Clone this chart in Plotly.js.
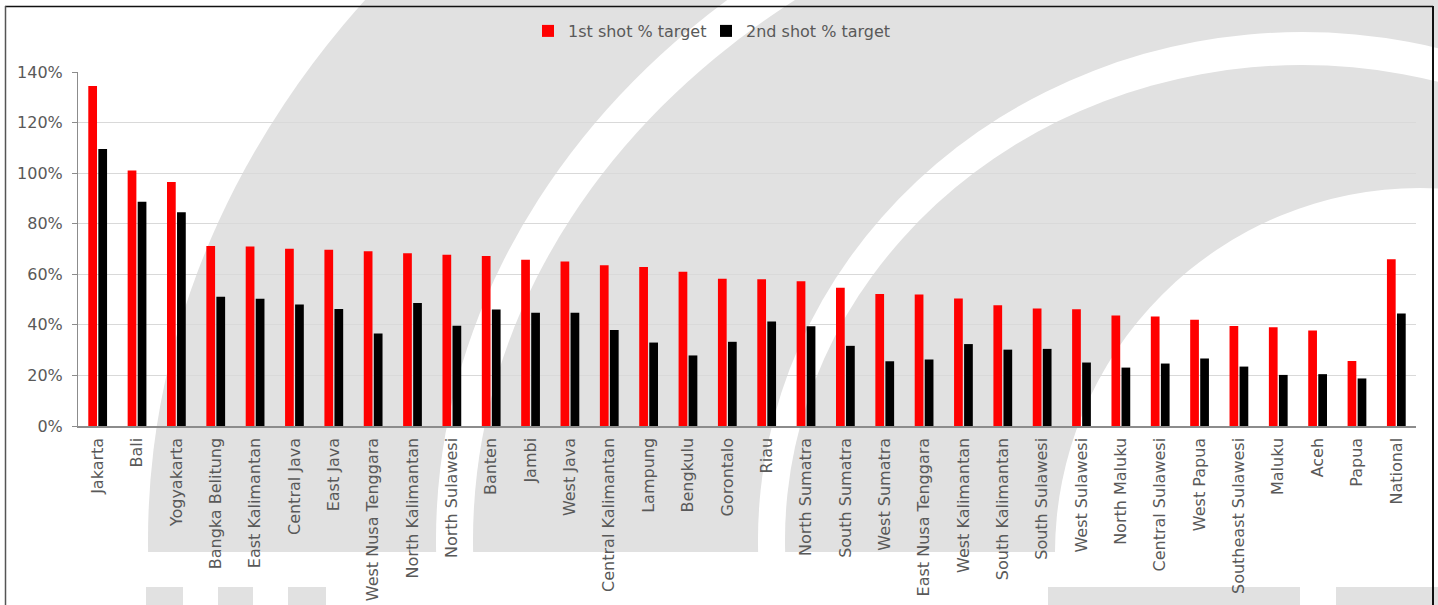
<!DOCTYPE html>
<html>
<head>
<meta charset="utf-8">
<script src="https://cdn.plot.ly/plotly-3.0.1.min.js"></script>
<style>
  html, body { margin: 0; padding: 0; width: 1438px; height: 605px; overflow: hidden; background: #fff; }
  #bg { position: absolute; left: 0; top: 0; }
  #chart { position: absolute; left: 0; top: 0; width: 1438px; height: 605px; }
</style>
</head>
<body>
<svg id="bg" width="1438" height="605" xmlns="http://www.w3.org/2000/svg">
  <defs><clipPath id="clipTop"><rect x="0" y="0" width="1438" height="552"/></clipPath></defs>
  <rect x="0" y="0" width="1438" height="605" fill="#ffffff"/>
  <g clip-path="url(#clipTop)">
    <ellipse cx="1302" cy="540" rx="1154" ry="925" fill="#e1e1e1"/>
    <ellipse cx="1302" cy="540" rx="866" ry="722" fill="#ffffff"/>
    <ellipse cx="1302" cy="540" rx="829" ry="682.5" fill="#e1e1e1"/>
    <ellipse cx="1302" cy="540" rx="544" ry="508" fill="#ffffff"/>
    <ellipse cx="1302" cy="540" rx="517" ry="475" fill="#e1e1e1"/>
    <circle cx="1420" cy="553" r="365" fill="#ffffff"/>
  </g>
  <rect x="146" y="587" width="37" height="20" fill="#e1e1e1"/>
  <rect x="218" y="587" width="35" height="20" fill="#e1e1e1"/>
  <rect x="288" y="587" width="38" height="20" fill="#e1e1e1"/>
  <rect x="1048" y="587" width="252" height="20" fill="#e1e1e1"/>
  <rect x="1336" y="587" width="102" height="20" fill="#e1e1e1"/>
  <line x1="5" y1="6.5" x2="1433" y2="6.5" stroke="#111" stroke-width="1.5"/>
  <line x1="5.5" y1="6" x2="5.5" y2="605" stroke="#555" stroke-width="1.5"/>
  <line x1="1433" y1="6" x2="1433" y2="605" stroke="#111" stroke-width="2"/>
</svg>
<div id="chart"></div>
<script>
const categories = ["Jakarta", "Bali", "Yogyakarta", "Bangka Belitung", "East Kalimantan", "Central Java", "East Java", "West Nusa Tenggara", "North Kalimantan", "North Sulawesi", "Banten", "Jambi", "West Java", "Central Kalimantan", "Lampung", "Bengkulu", "Gorontalo", "Riau", "North Sumatra", "South Sumatra", "West Sumatra", "East Nusa Tenggara", "West Kalimantan", "South Kalimantan", "South Sulawesi", "West Sulawesi", "North Maluku", "Central Sulawesi", "West Papua", "Southeast Sulawesi", "Maluku", "Aceh", "Papua", "National"];

const firstShot = [1.345, 1.010, 0.965, 0.712, 0.710, 0.701, 0.697, 0.691, 0.683, 0.677, 0.672, 0.657, 0.651, 0.636, 0.629, 0.610, 0.582, 0.580, 0.572, 0.547, 0.522, 0.520, 0.504, 0.478, 0.465, 0.462, 0.437, 0.433, 0.420, 0.395, 0.391, 0.378, 0.257, 0.659];

const secondShot = [1.095, 0.887, 0.845, 0.511, 0.503, 0.481, 0.463, 0.366, 0.486, 0.396, 0.461, 0.448, 0.448, 0.380, 0.330, 0.279, 0.333, 0.413, 0.394, 0.317, 0.256, 0.263, 0.324, 0.302, 0.305, 0.251, 0.231, 0.247, 0.267, 0.235, 0.202, 0.205, 0.188, 0.445];

const seriesNames = ["1st shot % target", "2nd shot % target"];
const yTickVals = [0, 0.2, 0.4, 0.6, 0.8, 1.0, 1.2, 1.4];

const FONT = "DejaVu Sans, Verdana, sans-serif";
const TXT = "#595959";

const traces = [
  { type: "bar", name: seriesNames[0], x: categories, y: firstShot, marker: { color: "#ff0000" }, legendwidth: 133, hoverinfo: "x+y" },
  { type: "bar", name: seriesNames[1], x: categories, y: secondShot, marker: { color: "#000000" }, hoverinfo: "x+y" }
];

const layout = {
  width: 1438, height: 605,
  margin: { l: 78, r: 22, t: 72, b: 179, pad: 0 },
  paper_bgcolor: "rgba(0,0,0,0)",
  plot_bgcolor: "rgba(0,0,0,0)",
  font: { family: FONT, size: 16, color: TXT },
  barmode: "group",
  bargap: 0.49,
  bargroupgap: 0.13,
  showlegend: true,
  legend: {
    orientation: "h",
    x: (528 - 78) / 1338, xanchor: "left",
    y: (426 - 31) / 354, yanchor: "middle",
    bgcolor: "rgba(0,0,0,0)",
    font: { family: FONT, size: 16, color: TXT },
    traceorder: "normal"
  },
  xaxis: {
    type: "category",
    tickangle: -90,
    showgrid: false,
    showline: true, linecolor: "#8c8c8c", linewidth: 1.5,
    ticks: "",
    ticklabelstandoff: 4,
    tickfont: { family: FONT, size: 16, color: TXT },
    fixedrange: true
  },
  yaxis: {
    range: [0, 1.4],
    tickvals: yTickVals,
    tickformat: ".0%",
    showgrid: true, gridcolor: "#d9d9d9", gridwidth: 1,
    zeroline: false,
    showline: true, linecolor: "#8c8c8c", linewidth: 1,
    ticks: "outside", ticklen: 5, tickcolor: "#8c8c8c",
    ticklabelstandoff: 6,
    tickfont: { family: FONT, size: 16, color: TXT },
    fixedrange: true
  }
};

Plotly.newPlot("chart", traces, layout, { displayModeBar: false, staticPlot: true });
</script>
</body>
</html>
